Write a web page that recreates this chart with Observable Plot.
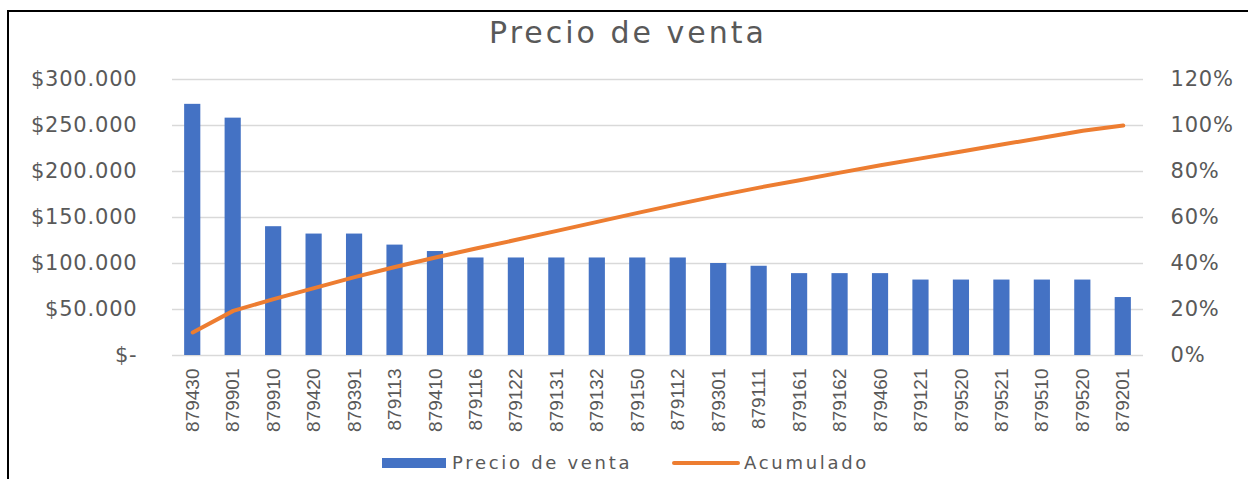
<!DOCTYPE html>
<html><head><meta charset="utf-8">
<script src="https://cdn.jsdelivr.net/npm/d3@7"></script>
<script src="https://cdn.jsdelivr.net/npm/@observablehq/plot@0.6"></script>
<style>
body{margin:0;background:#fff;width:1248px;height:479px;overflow:hidden;position:relative;font-family:"DejaVu Sans",sans-serif;}
#frame{position:absolute;left:7px;top:10px;width:1300px;height:500px;border-top:2px solid #000;border-left:2px solid #000;}
#title{position:absolute;left:8px;width:1240px;top:18px;text-align:center;font-size:30px;line-height:30px;letter-spacing:3px;color:#595959;white-space:nowrap;}
#chart{position:absolute;left:0;top:60px;}
.sw{position:absolute;}
.lt{position:absolute;font-size:18px;line-height:18px;letter-spacing:2.7px;color:#595959;white-space:nowrap;}
</style></head>
<body>
<div id="frame"></div>
<div id="title">Precio de venta</div>
<div id="chart"></div>
<div class="sw" style="left:382px;top:458px;width:64px;height:10px;background:#4472c4"></div>
<div class="lt" style="left:452px;top:454px">Precio de venta</div>
<div class="sw" style="left:672px;top:461px;width:68px;height:4px;border-radius:2px;background:#ed7d31"></div>
<div class="lt" style="left:744px;top:454px">Acumulado</div>
<script>
const codes = ["879430","879901","879910","879420","879391","879113","879410","879116","879122","879131","879132","879150","879112","879301","879111","879161","879162","879460","879121","879520","879521","879510","879520","879201"];
const prices = [273000,258000,140000,132000,132000,120000,113000,106000,106000,106000,106000,106000,106000,100000,97000,89000,89000,89000,82000,82000,82000,82000,82000,63000];
const cumulativePct = [10.0,19.4,24.5,29.3,34.1,38.5,42.6,46.5,50.3,54.2,58.1,62.0,65.8,69.5,73.0,76.2,79.5,82.7,85.7,88.7,91.7,94.7,97.7,100];
const leftTicks = [0,50000,100000,150000,200000,250000,300000];
const rightTicks = [0,20,40,60,80,100,120];

const k = 300000 / 120;
const data = codes.map((c, i) => ({i, code: c, price: prices[i], pct: cumulativePct[i]}));
const money = v => v === 0 ? "$-" : "$" + d3.format(",")(v).replace(/,/g, ".");

const plot = Plot.plot({
  width: 1248, height: 390,
  marginLeft: 172, marginRight: 105, marginTop: 19, marginBottom: 95,
  style: {fontFamily: "DejaVu Sans", color: "#595959", background: "transparent"},
  x: {type: "band", domain: d3.range(codes.length), paddingInner: 0.6, paddingOuter: 0.3, round: false},
  y: {domain: [0, 300000]},
  marks: [
    Plot.gridY(leftTicks, {stroke: "#d9d9d9", strokeOpacity: 1, strokeWidth: 1.3}),
    Plot.barY(data, {x: "i", y: "price", fill: "#4472c4"}),
    Plot.line(data, {x: "i", y: d => d.pct * k, stroke: "#ed7d31", strokeWidth: 4, strokeLinecap: "round", strokeLinejoin: "round"}),
    Plot.axisY({anchor: "left", ticks: leftTicks, tickFormat: money, tickSize: 0, tickPadding: 35, label: null, fontSize: 21}),
    Plot.axisY({anchor: "right", ticks: rightTicks.map(p => p * k), tickFormat: v => Math.round(v / k) + "%", tickSize: 0, tickPadding: 27, label: null, fontSize: 21}),
    Plot.axisX({tickRotate: -90, tickFormat: i => codes[i], tickSize: 0, tickPadding: 13, label: null, fontSize: 19, fontFamily: "Liberation Sans"})
  ]
});
d3.select(plot).selectAll('g[aria-label="y-axis tick label"]').attr("letter-spacing", "0.8");
document.getElementById("chart").appendChild(plot);
</script>
</body></html>
